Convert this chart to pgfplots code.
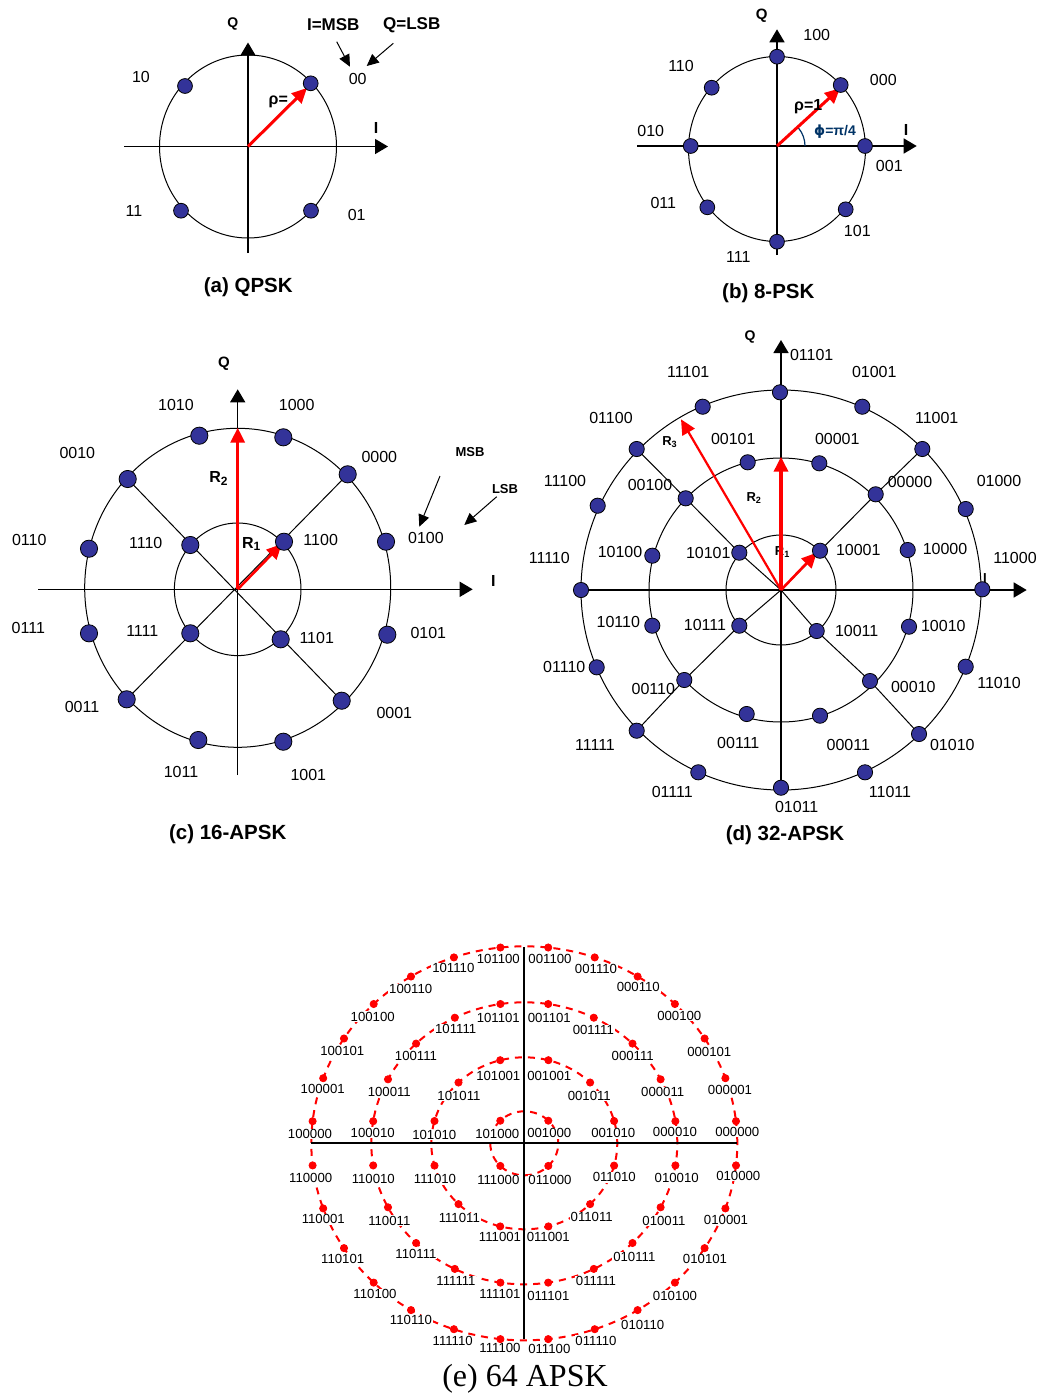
\documentclass[border=0pt]{standalone}
\usepackage{pgfplots}
\pgfplotsset{compat=1.18}
\usepackage{fontspec}
\setmainfont{Liberation Sans}
\newfontfamily\seriffont{Liberation Serif}
\newfontfamily\dejavu{DejaVu Sans}
\usetikzlibrary{arrows.meta}
\definecolor{ptblue}{RGB}{51,51,153}
\definecolor{phiblue}{RGB}{0,51,102}
\newcommand\fs[1]{\fontsize{#1}{#1}\selectfont}
\tikzset{
 lb/.style={font=\fs{8}, inner sep=0pt},
 bl/.style={font=\fs{#1}\bfseries, inner sep=0pt},
 ttl/.style={font=\fs{10.25}\bfseries, inner sep=0pt},
 ax/.style={line width=0.75pt, -{Triangle[length=6.5pt,width=7.5pt]}},
 rar/.style={red, line width=#1, -{Triangle[length=7.5pt,width=7pt]}},
 sm/.style={line width=0.5pt, -{Triangle[length=6pt,width=5.5pt]}},
 e/.style={font=\fs{6.6}, inner sep=0.4pt, fill=white},
}
\pgfplotsset{
 panel/.style={anchor=center,xmin=-100,xmax=100,ymin=-100,ymax=100,x=0.5pt,y=0.5pt,hide axis,clip=false},
 pts/.style={only marks, mark=*, mark size=#1, mark options={fill=ptblue, draw=black, line width=0.4pt}},
 rpts/.style={only marks, mark=*, mark size=1.8pt, mark options={fill=red, draw=red}},
}
\begin{document}
\begin{tikzpicture}
\path[use as bounding box] (0pt,0pt) rectangle (522.5pt,-699pt);
% ---------------- (a) QPSK ----------------
\begin{axis}[panel, at={(124pt,-73.25pt)}]
\draw[line width=0.5pt] (0,0) ellipse [x radius=88.5, y radius=91.5];
\draw[ax] (-124,0) -- (140,0);
\draw[ax] (0,-106.5) -- (0,104);
\draw[sm] (88.7,104.8) -- (102,79.8);
\draw[sm] (145.3,103.2) -- (118.7,80.5);
\addplot[pts=3.7pt] coordinates {(62.7,63.2) (-63,60.5) (-67,-64.2) (63,-64.2)};
\draw[rar=1.5pt] (0,0) -- (59,58.5);
\node[bl=7] at (-15.3,122.5) {Q};
\node[bl=8] at (128,18.5) {I};
\node[bl=8.5] at (85.3,121.5) {I=MSB};
\node[bl=8.5] at (163.7,121.5) {Q=LSB};
\node[lb] at (109.7,67.2) {00};
\node[lb] at (-107,69.2) {10};
\node[lb] at (-114,-64.2) {11};
\node[lb] at (108.7,-68.5) {01};
\node[bl=8] at (30.3,44.8) {ρ=};
\node[ttl] at (0.3,-140.8) {(a) QPSK};
\end{axis}
% ---------------- (b) 8-PSK ----------------
\begin{axis}[panel, at={(388.5pt,-73pt)}]
\draw[line width=0.5pt] (0,-3) ellipse [x radius=88.5, y radius=92.5];
\draw[ax] (-140,0) -- (139.7,0);
\draw[ax] (0,-109) -- (0,116.7);
\draw[phiblue, line width=0.6pt] (28,0) arc [start angle=0, end angle=40, radius=28];
\addplot[pts=3.7pt] coordinates {(0,89.3) (63.7,61) (88,0) (68.7,-63.3) (0,-95.7) (-69.7,-61.3) (-86.3,0) (-65.3,58.3)};
\draw[rar=1.5pt] (0,0) -- (63,57.7);
\node[bl=7.5] at (-15.3,130) {Q};
\node[bl=8] at (129,16) {I};
\node[lb] at (39.7,111) {100};
\node[lb] at (106.3,66) {000};
\node[lb] at (112.3,-20) {001};
\node[lb] at (80.3,-85) {101};
\node[lb] at (-38.7,-110.7) {111};
\node[lb] at (-113.7,-57.3) {011};
\node[lb] at (-126.3,15) {010};
\node[lb] at (-96,80) {110};
\node[bl=8] at (31.3,39.3) {ρ=1};
\node[bl=7, text=phiblue] at (58,14.3) {{\dejavu ϕ}=π/4};
\node[ttl] at (-8.7,-147.3) {(b) 8-PSK};
\end{axis}
% ---------------- (c) 16-APSK ----------------
\begin{axis}[panel, at={(118.85pt,-294.65pt)}]
\draw[line width=0.5pt] (0,1.5) ellipse [x radius=153, y radius=159.5];
\draw[line width=0.5pt] (0,0) ellipse [x radius=63.3, y radius=66.3];
\draw[line width=0.5pt] (-110,110.3) -- (104,-111.4);
\draw[line width=0.5pt] (110,115) -- (-111,-110);
\draw[ax] (-199.4,0) -- (235,0);
\draw[ax] (0,-185.7) -- (0,200);
\draw[sm] (202.3,113.3) -- (181.6,62.6);
\draw[sm] (259,92.6) -- (226.6,64.3);
\addplot[pts=4.3pt] coordinates {(-38.4,153.6) (45.6,152) (110,115) (148.3,47.6) (149.6,-45.4) (104,-111.4) (45.6,-152.4) (-39.4,-150.7) (-111,-110) (-148.7,-44) (-148.7,40.6) (-110,110.3)};
\addplot[pts=4.3pt] coordinates {(46.3,47.6) (-47.4,44.3) (-47.4,-44) (43,-50)};
\draw[rar=1.7pt] (0,0) -- (0,161.6);
\draw[rar=1.3pt] (0,0) -- (44,45.3);
\node[bl=7.5] at (-13.7,226) {Q};
\node[bl=8] at (255.6,8.6) {I};
\node[bl=6.5] at (232.3,137) {MSB};
\node[bl=6.5] at (267.3,100.3) {LSB};
\node[lb] at (-61.7,184.3) {1010};
\node[lb] at (59,184.3) {1000};
\node[lb] at (-160.4,136) {0010};
\node[lb] at (141.6,132) {0000};
\node[lb] at (-208.4,49.3) {0110};
\node[lb] at (-92,46) {1110};
\node[lb] at (83,49.3) {1100};
\node[lb] at (188.3,51) {0100};
\node[lb] at (-209.4,-39) {0111};
\node[lb] at (-95.4,-41.4) {1111};
\node[lb] at (79,-49) {1101};
\node[lb] at (190.6,-44) {0101};
\node[lb] at (-155.7,-118) {0011};
\node[lb] at (156.6,-124) {0001};
\node[lb] at (-56.7,-182.4) {1011};
\node[lb] at (70.6,-185.7) {1001};
\node[bl=8] at (14,45.3) {R\textsubscript{1}};
\node[bl=8] at (-18.7,111) {R\textsubscript{2}};
\node[ttl] at (-10,-244.7) {(c) 16-APSK};
\end{axis}
% ---------------- (d) 32-APSK ----------------
\begin{axis}[panel, at={(390.5pt,-295pt)}]
\draw[line width=0.5pt] (0,0) circle [radius=200];
\draw[line width=0.5pt] (0,0) circle [radius=132];
\draw[line width=0.5pt] (0,0) circle [radius=55];
\draw[line width=0.5pt] (141.3,141) -- (94.7,95.7) -- (39,39.3) -- (0,0) -- (-41.7,-35.7) -- (-96.7,-90) -- (-144.3,-140.7);
\draw[line width=0.5pt] (-144.3,141) -- (-95.3,91.7) -- (-41.7,37.3) -- (0,0) -- (35.7,-41) -- (89,-91) -- (138,-144);
\draw[ax] (-207.7,0) -- (245.7,0);
\draw[line width=0.75pt] (0,-198) -- (0,0);
\draw[ax] (0,0) -- (0,250);
\node[bl=6.5] at (204,12) {I};
\addplot[pts=3.8pt] coordinates {(-1,197.7) (81.3,183.3) (141.3,141) (184.7,81) (201.3,0.7) (184.7,-76.7) (138,-144) (84,-182.3) (0,-197.7) (-82.7,-182.3) (-144.3,-140.7) (-184.3,-77.3) (-200,0) (-183.3,84.3) (-144.3,141) (-78.3,183.3)};
\addplot[pts=3.8pt] coordinates {(-33.3,127.7) (38.3,126.7) (94.7,95.7) (126.7,40) (128,-36.7) (89,-91) (39,-125.7) (-34.3,-124) (-96.7,-90) (-128.7,-35.7) (-128.7,34.3) (-95.3,91.7)};
\addplot[pts=3.8pt] coordinates {(39,39.3) (-41.7,37.3) (-41.7,-35.7) (35.7,-41)};
\node[bl=6.5] at (1.7,38.3) {R\textsubscript{1}};
\draw[rar=1.1pt] (0,0) -- (-100,170.7);
\draw[rar=1.7pt] (0,0) -- (0,133.3);
\draw[rar=1.3pt] (0,0) -- (35.7,37.3);
\node[bl=7] at (-31,252.7) {Q};
\node[bl=6.5] at (-111,148.3) {R\textsubscript{3}};
\node[bl=6.5] at (-26.7,92.3) {R\textsubscript{2}};
\node[lb] at (30.7,235) {01101};
\node[lb] at (-92.7,218.3) {11101};
\node[lb] at (93.3,218.3) {01001};
\node[lb] at (-170,171.7) {01100};
\node[lb] at (155.7,171.7) {11001};
\node[lb] at (-47.7,150.7) {00101};
\node[lb] at (56.3,150.7) {00001};
\node[lb] at (-216,109.3) {11100};
\node[lb] at (-131,105) {00100};
\node[lb] at (129,108.3) {00000};
\node[lb] at (218,109.3) {01000};
\node[lb] at (-231.7,31.7) {11110};
\node[lb] at (-161,38.3) {10100};
\node[lb] at (-72.7,37.3) {10101};
\node[lb] at (77.3,40) {10001};
\node[lb] at (164,41) {10000};
\node[lb] at (234,31.7) {11000};
\node[lb] at (-162.7,-32.3) {10110};
\node[lb] at (-76,-35) {10111};
\node[lb] at (75.7,-41) {10011};
\node[lb] at (162.3,-35.7) {10010};
\node[lb] at (-216.7,-77.3) {01110};
\node[lb] at (-127.7,-99.3) {00110};
\node[lb] at (132.3,-96.7) {00010};
\node[lb] at (218,-93.3) {11010};
\node[lb] at (-186,-155) {11111};
\node[lb] at (-42.7,-152.7) {00111};
\node[lb] at (67.3,-155) {00011};
\node[lb] at (171.3,-155) {01010};
\node[lb] at (-108.7,-202.3) {01111};
\node[lb] at (109,-201.7) {11011};
\node[lb] at (15.7,-217.3) {01011};
\node[ttl] at (4,-245) {(d) 32-APSK};
\end{axis}
% ---------------- (e) 64 APSK ----------------
\begin{axis}[panel, at={(262.15pt,-571.65pt)}]
\begin{scope}[red, line width=1pt, dash pattern=on 3.5pt off 3pt]
\draw (0,0) ellipse [x radius=213, y radius=197];
\draw (0,0) ellipse [x radius=153, y radius=141];
\draw (0,0) ellipse [x radius=93, y radius=86];
\draw (0,0) ellipse [x radius=34, y radius=32];
\end{scope}
\draw[line width=1pt] (-213.6,0) -- (213,0);
\draw[line width=1pt] (0,-196) -- (0,196.6);
\node[e] at (-26,184.3) {101100};
\node[e] at (-71,175) {101110};
\node[e] at (-113.6,154) {100110};
\node[e] at (-151.6,126.6) {100100};
\node[e] at (-182,92.3) {100101};
\node[e] at (-201.6,54) {100001};
\node[e] at (-214.3,9.3) {100000};
\node[e] at (-26,125.6) {101101};
\node[e] at (-68.6,114) {101111};
\node[e] at (-108.3,87.6) {100111};
\node[e] at (-135,51.6) {100011};
\node[e] at (-151.6,10.6) {100010};
\node[e] at (-26,67.3) {101001};
\node[e] at (-65.3,47.3) {101011};
\node[e] at (-90,8.3) {101010};
\node[e] at (-27,9.3) {101000};
\node[e] at (25.7,184.3) {001100};
\node[e] at (71.7,174.3) {001110};
\node[e] at (114,156) {000110};
\node[e] at (155,127.6) {000100};
\node[e] at (185,91.6) {000101};
\node[e] at (205.7,53.3) {000001};
\node[e] at (213,11.6) {000000};
\node[e] at (25,125.6) {001101};
\node[e] at (69,113.3) {001111};
\node[e] at (108.4,87.6) {000111};
\node[e] at (138.4,51) {000011};
\node[e] at (150.7,11.6) {000010};
\node[e] at (25,67.3) {001001};
\node[e] at (65,47.3) {001011};
\node[e] at (89,10) {001010};
\node[e] at (25,10) {001000};
\node[e] at (-213.6,-35) {110000};
\node[e] at (-151,-36) {110010};
\node[e] at (-89.3,-36) {111010};
\node[e] at (-26,-36.7) {111000};
\node[e] at (-201,-76) {110001};
\node[e] at (-135,-77.4) {110011};
\node[e] at (-65,-75) {111011};
\node[e] at (-24.3,-94) {111001};
\node[e] at (-181.6,-116) {110101};
\node[e] at (-108.3,-110.7) {110111};
\node[e] at (-68.3,-137.7) {111111};
\node[e] at (-24.3,-151) {111101};
\node[e] at (-149.3,-150.7) {110100};
\node[e] at (-113.3,-176.7) {110110};
\node[e] at (-71.6,-197.7) {111110};
\node[e] at (-24.3,-205) {111100};
\node[e] at (25.7,-36.7) {011000};
\node[e] at (90,-34) {011010};
\node[e] at (152.4,-35) {010010};
\node[e] at (214,-32.7) {010000};
\node[e] at (67.4,-74) {011011};
\node[e] at (139.7,-77.4) {010011};
\node[e] at (201.7,-76.7) {010001};
\node[e] at (24,-94) {011001};
\node[e] at (110,-114) {010111};
\node[e] at (180.7,-116) {010101};
\node[e] at (71.7,-137.7) {011111};
\node[e] at (24,-152.4) {011101};
\node[e] at (150.7,-152.4) {010100};
\node[e] at (118.4,-181.7) {010110};
\node[e] at (71.7,-197.4) {011110};
\node[e] at (25,-205.7) {011100};
% outer ring, 28 points
\addplot[rpts] coordinates {(211.7,22.1) (201.1,65.1) (180.3,104.8) (150.6,139.3) (113.3,166.8) (70.4,185.9) (23.9,195.8)
 (-211.7,22.1) (-201.1,65.1) (-180.3,104.8) (-150.6,139.3) (-113.3,166.8) (-70.4,185.9) (-23.9,195.8)
 (-211.7,-22.1) (-201.1,-65.1) (-180.3,-104.8) (-150.6,-139.3) (-113.3,-166.8) (-70.4,-185.9) (-23.9,-195.8)
 (211.7,-22.1) (201.1,-65.1) (180.3,-104.8) (150.6,-139.3) (113.3,-166.8) (70.4,-185.9) (23.9,-195.8)};
% third ring, 20 points
\addplot[rpts] coordinates {(151.1,22.1) (136.3,64.0) (108.2,99.7) (69.5,125.6) (23.9,139.3)
 (-151.1,22.1) (-136.3,64.0) (-108.2,99.7) (-69.5,125.6) (-23.9,139.3)
 (-151.1,-22.1) (-136.3,-64.0) (-108.2,-99.7) (-69.5,-125.6) (-23.9,-139.3)
 (151.1,-22.1) (136.3,-64.0) (108.2,-99.7) (69.5,-125.6) (23.9,-139.3)};
% second ring, 12 points
\addplot[rpts] coordinates {(89.8,22.3) (65.8,60.8) (24.1,83.1) (-89.8,22.3) (-65.8,60.8) (-24.1,83.1)
 (-89.8,-22.3) (-65.8,-60.8) (-24.1,-83.1) (89.8,-22.3) (65.8,-60.8) (24.1,-83.1)};
% inner ring, 4 points
\addplot[rpts] coordinates {(24,22.6) (-24,22.6) (-24,-22.6) (24,-22.6)};
\node[font=\seriffont\fs{16}, inner sep=0pt] at (0.7,-235) {(e) 64 APSK};
\end{axis}
\end{tikzpicture}
\end{document}
